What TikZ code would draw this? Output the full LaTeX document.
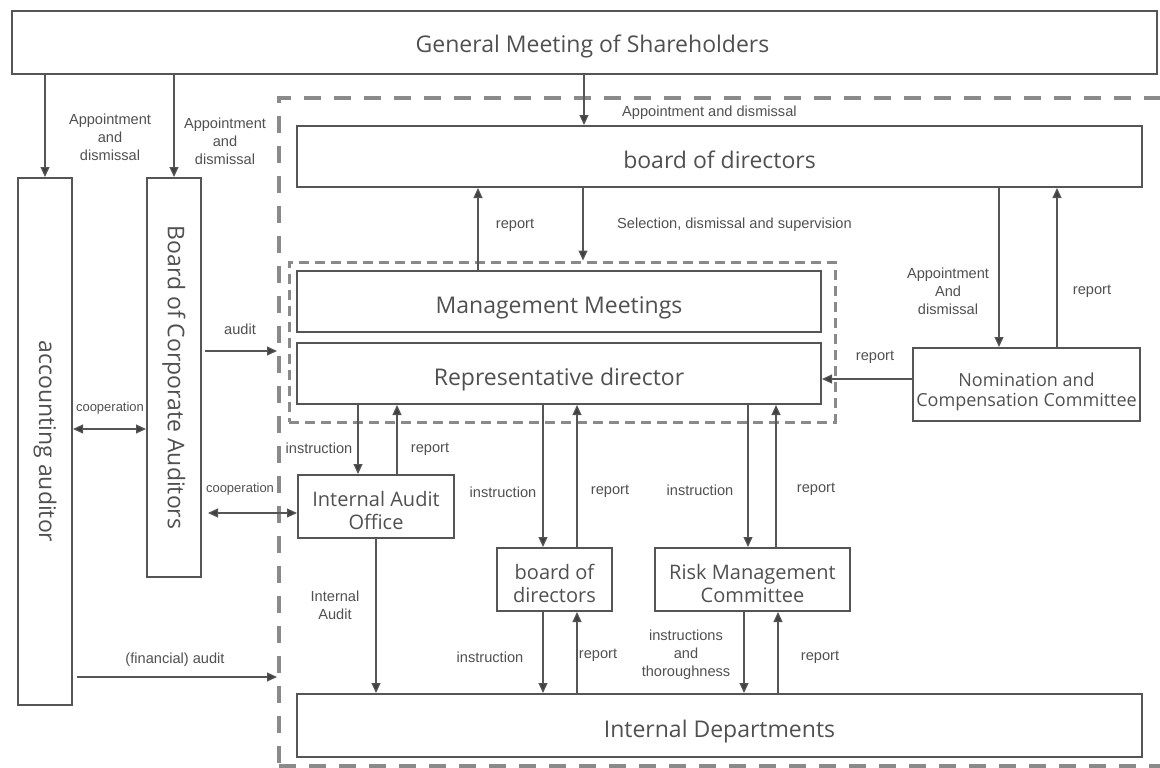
\documentclass[tikz,border=0pt]{standalone}
\usepackage{fontspec}
\setmainfont{Open Sans}
\newfontfamily\lblfont{Liberation Sans}
\usetikzlibrary{arrows.meta}
\definecolor{boxline}{HTML}{555555}
\definecolor{txt}{HTML}{505050}
\definecolor{dashc}{HTML}{8A8A8A}
\definecolor{arrc}{HTML}{555555}
\definecolor{tipc}{HTML}{404040}
\tikzset{
  box/.style={draw=boxline, line width=2pt, text=txt, inner sep=0pt, align=center, font=\fontsize{23}{26}\selectfont},
  onebox/.style={box, text height=29pt, text depth=5pt},
  midbox/.style={box, font=\fontsize{20}{22.5}\selectfont},
  ncbox/.style={box, font=\fontsize{18}{20}\selectfont},
  arr/.style={draw=arrc, line width=1.2pt, -{Triangle[length=10pt,width=9pt,fill=tipc]}},
  darr/.style={draw=arrc, line width=1.2pt, {Triangle[length=10pt,width=9pt,fill=tipc]}-{Triangle[length=10pt,width=9pt,fill=tipc]}},
  lbl/.style={text=txt, inner sep=0pt, align=center, font=\lblfont\fontsize{14.6}{18}\selectfont},
  slbl/.style={lbl, font=\lblfont\fontsize{13}{15}\selectfont},
  outerdash/.style={draw=dashc, line width=4pt, dash pattern=on 17pt off 13pt},
  innerdash/.style={draw=dashc, line width=3pt, dash pattern=on 10pt off 6pt},
}
\begin{document}
\begin{tikzpicture}[x=1pt,y=-1pt]
\useasboundingbox (0,0) rectangle (1160,768);
% dashed groups
\node[outerdash, minimum width=887, minimum height=668, inner sep=0pt] (co) at (722.5,432) {};
\node[innerdash, minimum width=546, minimum height=160, inner sep=0pt] (grp) at (562,342) {};
% boxes
\node[box, text height=26pt, text depth=5pt, minimum width=1145, minimum height=63] (gm) at (584.5,42.5) {\hspace*{16pt}General Meeting of Shareholders};
\node[onebox, minimum width=845, minimum height=61] (bod) at (719.5,156.5) {board of directors};
\node[onebox, minimum width=524, minimum height=61] (mm) at (559,301.5) {Management Meetings};
\node[onebox, minimum width=524, minimum height=61] (rd) at (559,373.5) {Representative director};
\node[ncbox, minimum width=227, minimum height=73] (ncc) at (1026.5,384.5) {\rule{0pt}{28pt}Nomination and\\Compensation Committee};
\node[box, minimum width=54, minimum height=527] (aa) at (45,441.5) {\rotatebox{-90}{accounting auditor}};
\node[box, minimum width=54, minimum height=399] (bca) at (174,377.5) {\rotatebox{-90}{Board of Corporate Auditors}};
\node[midbox, minimum width=156, minimum height=63] (iao) at (376,506.5) {\rule{0pt}{23pt}Internal Audit\\Office};
\node[midbox, minimum width=115, minimum height=63] (sbod) at (554.5,579.5) {\rule{0pt}{23pt}board of\\directors};
\node[midbox, minimum width=195, minimum height=63] (rmc) at (752.5,579.5) {\rule{0pt}{23pt}Risk Management\\Committee};
\node[onebox, minimum width=845, minimum height=63] (idp) at (719.5,725.5) {Internal Departments};
% column / row coordinates
\coordinate (c584) at (584,0);
\coordinate (c478) at (478,0);
\coordinate (c583) at (583,0);
\coordinate (c999) at (999,0);
\coordinate (c1057) at (1057,0);
\coordinate (c358) at (358,0);
\coordinate (c397) at (397,0);
\coordinate (c543) at (543,0);
\coordinate (c577) at (577,0);
\coordinate (c748) at (748,0);
\coordinate (c776) at (776,0);
\coordinate (c744) at (744,0);
\coordinate (c778) at (778,0);
\coordinate (c376) at (376,0);
\coordinate (r379) at (0,379);
\coordinate (r351) at (0,351);
\coordinate (r429) at (0,429);
\coordinate (r513) at (0,513);
\coordinate (r677) at (0,677);
% arrows
\draw[arr] (gm.south -| aa.north) -- (aa.north);
\draw[arr] (gm.south -| bca.north) -- (bca.north);
\draw[arr] (gm.south -| c584) -- (bod.north -| c584);
\draw[arr] (mm.north -| c478) -- (bod.south -| c478);
\draw[arr] (bod.south -| c583) -- (grp.north -| c583);
\draw[arr] (bod.south -| c999) -- (ncc.north -| c999);
\draw[arr] (ncc.north -| c1057) -- (bod.south -| c1057);
\draw[arr] (ncc.west |- r379) -- (rd.east |- r379);
\draw[arr, shorten <=3pt] (bca.east |- r351) -- (co.west |- r351);
\draw[darr] (aa.east |- r429) -- (bca.west |- r429);
\draw[darr, shorten <=6pt] (bca.east |- r513) -- (iao.west |- r513);
\draw[arr, shorten <=4pt] (aa.east |- r677) -- (co.west |- r677);
\draw[arr] (rd.south -| c358) -- (iao.north -| c358);
\draw[arr] (iao.north -| c397) -- (rd.south -| c397);
\draw[arr] (rd.south -| c543) -- (sbod.north -| c543);
\draw[arr] (sbod.north -| c577) -- (rd.south -| c577);
\draw[arr] (rd.south -| c748) -- (rmc.north -| c748);
\draw[arr] (rmc.north -| c776) -- (rd.south -| c776);
\draw[arr] (iao.south -| c376) -- (idp.north -| c376);
\draw[arr] (sbod.south -| c543) -- (idp.north -| c543);
\draw[arr] (idp.north -| c577) -- (sbod.south -| c577);
\draw[arr] (rmc.south -| c744) -- (idp.north -| c744);
\draw[arr] (idp.north -| c778) -- (rmc.south -| c778);
% labels
\node[lbl] (l1) at (110,137) {Appointment\\and\\dismissal};
\node[lbl] (l2) at (225,141) {Appointment\\and\\dismissal};
\node[lbl, anchor=west] (l3) at (622,113) {Appointment and dismissal};
\node[lbl] (l4) at (515,225) {report};
\node[lbl, anchor=west] (l5) at (617,225) {Selection, dismissal and supervision};
\node[lbl] (l6) at (948,291) {Appointment\\And\\dismissal};
\node[lbl] (l7) at (1092,291) {report};
\node[lbl] (l8) at (875,357) {report};
\node[lbl] (l9) at (240,329) {audit};
\node[slbl] (l10) at (110,408) {cooperation};
\node[slbl] (l11) at (240,489) {cooperation};
\node[lbl] (l12) at (319,448) {instruction};
\node[lbl] (l13) at (430,449) {report};
\node[lbl] (l14) at (503,492) {instruction};
\node[lbl] (l15) at (610,491) {report};
\node[lbl] (l16) at (700,490) {instruction};
\node[lbl] (l17) at (816,489) {report};
\node[lbl] (l18) at (335,605) {Internal\\Audit};
\node[lbl] (l19) at (175,660) {(financial) audit};
\node[lbl] (l20) at (490,657) {instruction};
\node[lbl] (l21) at (598,655) {report};
\node[lbl] (l22) at (686,655) {instructions\\and\\thoroughness};
\node[lbl] (l23) at (820,657) {report};
\end{tikzpicture}
\end{document}
